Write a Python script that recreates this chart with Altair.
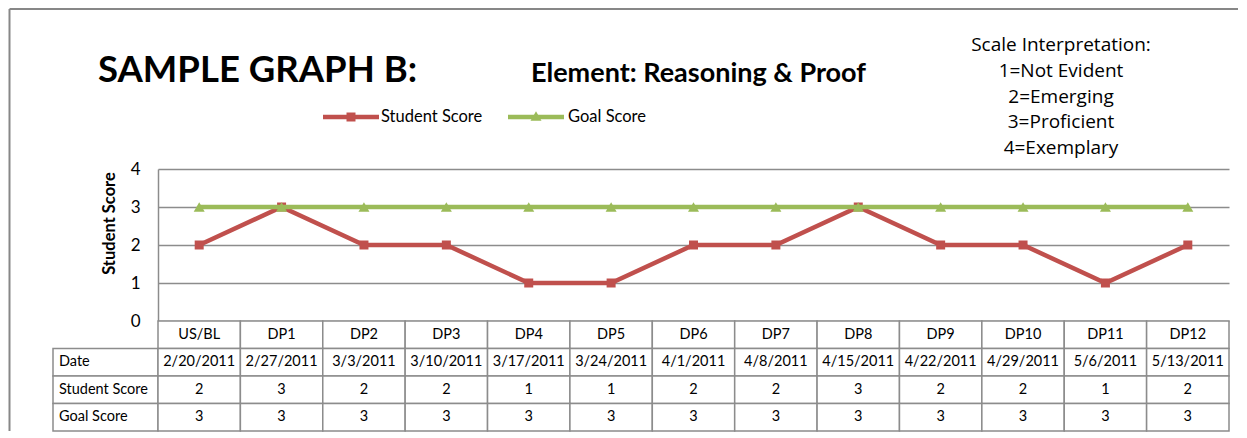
import altair as alt
import pandas as pd

# ---------------- data ----------------
categories = ["US/BL", "DP1", "DP2", "DP3", "DP4", "DP5", "DP6",
              "DP7", "DP8", "DP9", "DP10", "DP11", "DP12"]
dates = ["2/20/2011", "2/27/2011", "3/3/2011", "3/10/2011", "3/17/2011",
         "3/24/2011", "4/1/2011", "4/8/2011", "4/15/2011", "4/22/2011",
         "4/29/2011", "5/6/2011", "5/13/2011"]
student_scores = [2, 3, 2, 2, 1, 1, 2, 2, 3, 2, 2, 1, 2]
goal_scores = [3, 3, 3, 3, 3, 3, 3, 3, 3, 3, 3, 3, 3]
series_names = ["Student Score", "Goal Score"]
series_colors = ["#C0504D", "#9BBB59"]
series_shapes = ["square", "triangle-up"]
row_labels = ["Date", "Student Score", "Goal Score"]
y_ticks = [0, 1, 2, 3, 4]
scale_lines = ["Scale Interpretation:", "1=Not Evident", "2=Emerging",
               "3=Proficient", "4=Exemplary"]
title_text = "SAMPLE GRAPH B:"
element_text = "Element: Reasoning & Proof"

# ---------------- layout ----------------
PW, PH = 1071, 152
TH = 110
FONT = "Lato"
GRID = "#8c8c8c"
FRAME = "#878787"
MARK_SIZES = [81, 121]

long = pd.DataFrame({
    "category": categories + categories,
    "series": [series_names[0]] * len(categories) + [series_names[1]] * len(categories),
    "value": student_scores + goal_scores,
})

one = pd.DataFrame({"k": [0]})

x_enc = alt.X("category:N", sort=categories,
              scale=alt.Scale(domain=categories, paddingInner=0, paddingOuter=0),
              axis=None)
y_enc = alt.Y("value:Q", scale=alt.Scale(domain=[0, 4]),
              axis=alt.Axis(values=y_ticks, tickSize=0, labelPadding=18,
                            labelFont=FONT, labelFontSize=17, labelColor="black",
                            domainColor=GRID, domainWidth=1.5,
                            gridColor=GRID, gridWidth=1.3,
                            title="Student Score", titleFont=FONT,
                            titleFontSize=16.5, titleFontWeight="bold",
                            titleColor="black", titleAngle=-90,
                            titleX=-49, titleY=54, titleAlign="center",
                            titleBaseline="middle"))

color_scale = alt.Scale(domain=series_names, range=series_colors)
color_enc = alt.Color("series:N", scale=color_scale, legend=None)

base = alt.Chart(long)
series_layers = []
for name, shape, msize in zip(series_names, series_shapes, MARK_SIZES):
    sub = base.transform_filter(alt.datum.series == name)
    series_layers.append(sub.mark_line(strokeWidth=4.5).encode(
        x=x_enc, y=y_enc, color=color_enc))
    series_layers.append(sub.mark_point(shape=shape, filled=True, size=msize,
                                        opacity=1).encode(
        x=x_enc, y=y_enc, color=color_enc))

# ---- legend (line + marker + label), drawn as marks ----
legend_x = [165, 350]
legend_label_x = [223, 410]
LEG_Y = -52
legend_layers = []
for name, shape, msize, lx, tx in zip(series_names, series_shapes, MARK_SIZES,
                                      legend_x, legend_label_x):
    d = alt.Chart(pd.DataFrame({"series": [name]}))
    legend_layers.append(d.mark_rule(strokeWidth=4.5).encode(
        x=alt.value(lx), x2=alt.value(lx + 56), y=alt.value(LEG_Y), color=color_enc))
    legend_layers.append(d.mark_point(shape=shape, filled=True, size=msize,
                                      opacity=1).encode(
        x=alt.value(lx + 28), y=alt.value(LEG_Y - (1 if shape != "square" else 0)),
        color=color_enc))
    legend_layers.append(d.mark_text(font=FONT, fontSize=16.5, color="black",
                                     align="left", baseline="middle").encode(
        x=alt.value(tx), y=alt.value(LEG_Y), text="series:N"))

# decorations / annotations
frame_left = alt.Chart(one).mark_rule(color=FRAME, strokeWidth=2).encode(
    x=alt.value(-148.5), y=alt.value(-160), y2=alt.value(262))
frame_top = alt.Chart(one).mark_rule(color=FRAME, strokeWidth=2).encode(
    x=alt.value(-148.5), x2=alt.value(1080), y=alt.value(-160))
title_mark = alt.Chart(one).mark_text(
    text=title_text, font=FONT, fontSize=36.5, fontWeight="bold",
    align="left", baseline="alphabetic", color="black").encode(
    x=alt.value(-60), y=alt.value(-87))
element_mark = alt.Chart(one).mark_text(
    text=element_text, font=FONT, fontSize=27, fontWeight="bold",
    align="left", baseline="alphabetic", color="black").encode(
    x=alt.value(373), y=alt.value(-87))
scale_mark = alt.Chart(one).mark_text(
    text=scale_lines, font="Open Sans", fontSize=19, lineHeight=25.8,
    align="center", baseline="alphabetic", color="black").encode(
    x=alt.value(903), y=alt.value(-118))

top = alt.layer(frame_left, frame_top, title_mark, element_mark, scale_mark,
                *series_layers, *legend_layers).properties(width=PW, height=PH)

# ---------------- table ----------------
hdr_key = "Category"
rows_domain = [hdr_key] + row_labels
table_df = pd.DataFrame({
    "category": categories * 4,
    "row": [hdr_key] * len(categories) + [row_labels[0]] * len(categories)
           + [row_labels[1]] * len(categories) + [row_labels[2]] * len(categories),
    "text": categories + dates + [str(v) for v in student_scores] + [str(v) for v in goal_scores],
})
label_df = pd.DataFrame({"row": row_labels})

x_tab = alt.X("category:N", sort=categories,
              scale=alt.Scale(domain=categories, paddingInner=0, paddingOuter=0),
              axis=None)
y_tab = alt.Y("row:N", sort=rows_domain,
              scale=alt.Scale(domain=rows_domain, paddingInner=0, paddingOuter=0),
              axis=None)

cells = alt.Chart(table_df).mark_rect(fill="white", stroke=GRID, strokeWidth=1.5).encode(
    x=x_tab, y=y_tab)
cell_text = alt.Chart(table_df).mark_text(font=FONT, fontSize=14.5, color="black").encode(
    x=x_tab, y=y_tab, text="text:N")
label_cells = alt.Chart(label_df).mark_rect(fill="white", stroke=GRID, strokeWidth=1.5).encode(
    x=alt.value(-105), x2=alt.value(0), y=y_tab)
label_text = alt.Chart(label_df).mark_text(font=FONT, fontSize=14.5, color="black",
                                           align="left").encode(
    x=alt.value(-99), y=y_tab, text="row:N")

bottom = alt.layer(label_cells, cells, label_text, cell_text).properties(width=PW, height=TH)

chart = alt.vconcat(top, bottom, spacing=0, bounds="flush").properties(
    padding=0, background="white"
).configure_view(stroke=None)

chart.save("out.html", embed_options={"renderer": "svg", "actions": False})
